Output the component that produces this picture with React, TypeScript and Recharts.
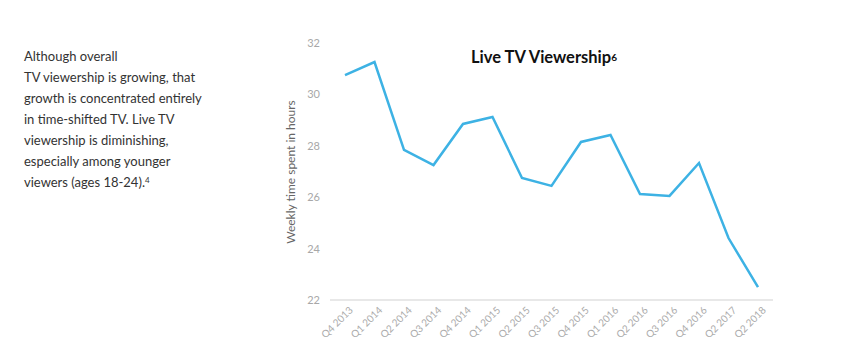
import React from "react";
import { LineChart, Line, XAxis, YAxis } from "recharts";

const quarters = [
  "Q4 2013", "Q1 2014", "Q2 2014", "Q3 2014", "Q4 2014",
  "Q1 2015", "Q2 2015", "Q3 2015", "Q4 2015", "Q1 2016",
  "Q2 2016", "Q3 2016", "Q4 2016", "Q2 2017", "Q2 2018",
];
const hours = [
  30.75, 31.26, 27.84, 27.25, 28.85,
  29.12, 26.75, 26.44, 28.15, 28.42,
  26.12, 26.05, 27.33, 24.41, 22.5,
];
const yTicks = [22, 24, 26, 28, 30, 32];

const introLines = [
  "Although overall",
  "TV viewership is growing, that",
  "growth is concentrated entirely",
  "in time-shifted TV. Live TV",
  "viewership is diminishing,",
  "especially among younger",
];

const data = quarters.map((q, i) => ({ quarter: q, hours: hours[i] }));

const XTick = (props: any) => {
  const { x, y, payload } = props;
  return (
    <text
      x={x}
      y={y}
      transform={`rotate(-45 ${x} ${y})`}
      textAnchor="end"
      fontSize={10}
      fill="#ababab"
      fontFamily="Lato, sans-serif"
      dy={8}
      dx={4}
    >
      {payload.value}
    </text>
  );
};

export default function App() {
  return (
    <div
      style={{
        position: "absolute",
        left: 0,
        top: 0,
        width: 843,
        height: 360,
        background: "#fff",
        fontFamily: "Lato, sans-serif",
      }}
    >
      <div
        style={{
          position: "absolute",
          left: 24,
          top: 46,
          fontSize: 13,
          lineHeight: "21px",
          color: "#333",
        }}
      >
        {introLines.map((l) => (
          <div key={l}>{l}</div>
        ))}
        <div>
          viewers (ages 18-24).
          <span style={{ fontSize: 8, position: "relative", top: -4 }}>4</span>
        </div>
      </div>

      <div
        style={{
          position: "absolute",
          left: 471,
          top: 46,
          fontSize: 16.5,
          fontWeight: 700,
          color: "#111",
          whiteSpace: "nowrap",
          lineHeight: "22px",
        }}
      >
        Live TV Viewership
        <span style={{ fontSize: 10, fontWeight: 700, position: "relative", top: -2 }}>6</span>
      </div>

      <LineChart
        width={843}
        height={360}
        data={data}
        margin={{ top: 43, right: 70, bottom: 0, left: 270 }}
        style={{ position: "absolute", left: 0, top: 0 }}
      >
        <XAxis
          dataKey="quarter"
          padding={{ left: 15, right: 15 }}
          axisLine={{ stroke: "#e8e8e8", strokeWidth: 2 }}
          tickLine={false}
          interval={0}
          tick={<XTick />}
          height={60}
        />
        <YAxis
          domain={[22, 32]}
          ticks={yTicks}
          axisLine={false}
          tickLine={false}
          tickSize={8}
          tickMargin={2}
          width={60}
          tick={{ fontSize: 11, fill: "#a8a8a8", fontFamily: "Lato, sans-serif" }}
          label={{
            content: () => (
              <text
                x={292}
                y={172}
                transform="rotate(-90 292 172)"
                textAnchor="middle"
                dominantBaseline="middle"
                fontSize={12}
                fill="#666"
                fontFamily="Lato, sans-serif"
              >
                Weekly time spent in hours
              </text>
            ),
          }}
        />
        <Line
          type="linear"
          dataKey="hours"
          stroke="#3db2e4"
          strokeWidth={2.5}
          dot={false}
          activeDot={false}
          isAnimationActive={false}
        />
      </LineChart>
    </div>
  );
}
